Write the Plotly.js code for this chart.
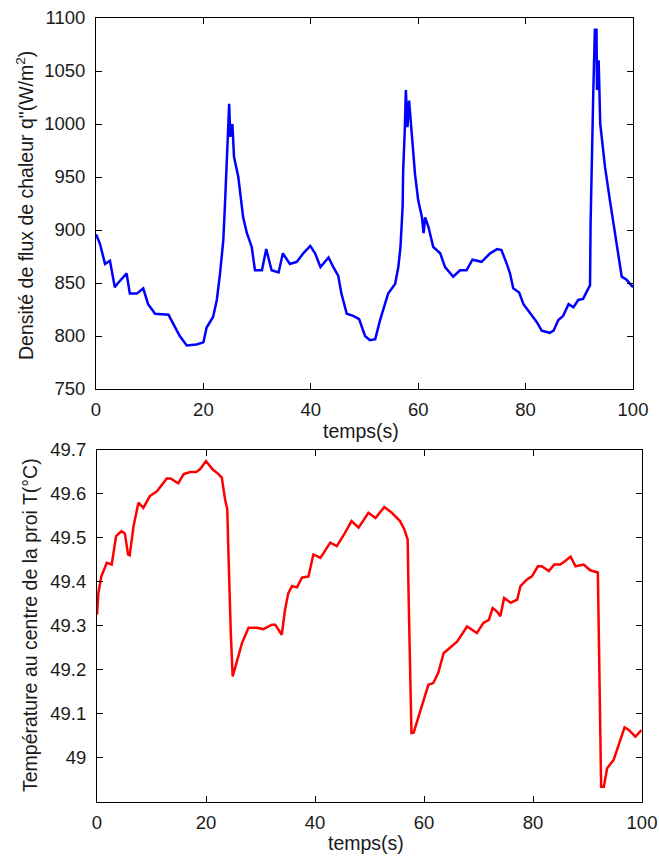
<!DOCTYPE html>
<html>
<head>
<meta charset="utf-8">
<script src="https://cdn.plot.ly/plotly-3.0.1.min.js"></script>
<style>html,body{margin:0;padding:0;background:#fff;}#chart{width:659px;height:856px;}</style>
</head>
<body>
<div id="chart"></div>
<script>
// Top panel: heat flux density q" (W/m²) vs time (s)
var tFlux = [0,0.74,1.68,2.6,3.5,4.1,5.7,6.3,7.6,8.8,
  9.7,11,13.5,15.6,16.9,18.7,20,20.6,21.8,22.5,
  23.1,23.7,24.0,24.3,24.5,24.8,25.0,25.4,25.7,26.5,
  27.4,28.1,29.0,29.6,30.9,31.7,32.7,34.0,34.8,36.1,
  37.4,38.6,39.9,40.8,41.8,43.3,44.2,45.1,45.7,46.7,
  47.9,49.0,50.1,51.0,52.0,52.9,54.4,55.7,56.3,56.7,
  57.1,57.2,57.5,57.7,58.0,58.3,58.8,59.4,60.0,60.7,
  61.0,61.3,61.9,62.8,64.1,65.0,66.5,67.8,69.0,70.1,
  71.8,73.4,74.7,75.5,76.5,77.1,77.7,78.8,79.6,80.8,
  82.1,83.0,84.5,85.2,86.1,87.0,88.0,88.9,89.8,90.7,
  92.0,92.1,92.3,92.6,92.9,93.2,93.3,93.6,93.9,94.8,
  95.7,96.6,97.3,97.9,98.8,100];
var qFlux = [896,887,868,871,846,850,859,840,840,845,
  830,821,820,800,791,792,794,808,818,834,
  859,890,922,956,988,1019,988,1000,969,950,
  912,897,884,862,862,882,862,860,878,868,
  870,878,885,878,865,874,865,857,840,821,
  819,816,800,796,797,815,840,849,865,884,
  922,956,994,1032,997,1022,991,953,928,912,
  897,912,903,884,878,865,856,862,862,872,
  870,878,882,881,868,859,845,841,830,822,
  813,805,803,805,815,819,830,827,834,835,
  848,906,967,1029,1089,1089,1032,1060,1000,959,
  928,900,878,856,853,846];

// Bottom panel: temperature at wall centre T (°C) vs time (s)
var tTemp = [0,0.25,0.8,1.8,2.7,3.5,4.5,5.1,5.7,6.0,
  6.7,7.6,8.5,9.7,11.0,12.8,13.5,14.9,15.9,17.1,
  18.2,18.9,20.0,21.2,22.3,22.9,23.5,23.9,24.1,24.3,
  24.55,24.9,25.65,26.6,27.8,29.3,30.5,32.1,32.7,33.9,
  34.5,35.1,35.8,36.7,37.6,38.8,39.7,41.0,42.8,44.0,
  45.5,46.7,48.0,49.8,51.1,52.7,54.1,55.6,56.4,57.0,
  57.2,57.5,57.7,58.1,59.0,59.9,60.8,61.7,62.6,63.6,
  64.8,66.1,67.9,69.7,70.9,71.9,72.6,73.4,74.0,74.7,
  75.9,77.1,77.7,78.9,79.8,80.9,81.6,82.9,83.9,85.0,
  85.9,86.9,87.8,89.3,90.5,91.9,92.1,92.3,92.5,93.0,
  93.6,94.8,95.7,96.8,97.6,98.8,99.9];
var TTemp = [49.325,49.374,49.412,49.443,49.439,49.504,49.515,49.51,49.462,49.46,
  49.526,49.58,49.568,49.595,49.606,49.635,49.635,49.624,49.645,49.65,
  49.65,49.656,49.675,49.656,49.645,49.637,49.587,49.565,49.473,49.374,
  49.283,49.184,49.215,49.26,49.295,49.295,49.292,49.302,49.302,49.279,
  49.336,49.374,49.39,49.387,49.409,49.412,49.462,49.454,49.489,49.481,
  49.511,49.538,49.523,49.557,49.545,49.57,49.557,49.538,49.519,49.496,
  49.352,49.203,49.055,49.056,49.093,49.131,49.165,49.169,49.192,49.237,
  49.249,49.264,49.298,49.283,49.306,49.313,49.34,49.332,49.321,49.363,
  49.352,49.359,49.39,49.405,49.412,49.435,49.435,49.424,49.439,49.439,
  49.447,49.457,49.435,49.439,49.426,49.421,49.26,49.093,48.933,48.933,
  48.975,48.994,49.028,49.068,49.062,49.047,49.062];

var xTicks = [0,20,40,60,80,100];
var qTicks = [750,800,850,900,950,1000,1050,1100];
var TTicks = [49,49.1,49.2,49.3,49.4,49.5,49.6,49.7];
var TTickText = ['49','49.1','49.2','49.3','49.4','49.5','49.6','49.7'];

var FONT = 'Liberation Sans, Arial, sans-serif';
var tickFont = {family: FONT, size: 18.5, color: '#1a1a1a'};

function axisBase() {
  return {
    showgrid: false, zeroline: false, showline: true, linecolor: '#000', linewidth: 1,
    mirror: 'ticks', ticks: 'inside', ticklen: 6, tickcolor: '#000', tickwidth: 1,
    tickfont: tickFont, automargin: false, fixedrange: true
  };
}

var xa1 = Object.assign(axisBase(), {domain: [96/659, 633/659], range: [0, 100], tickvals: xTicks, anchor: 'y', ticklabelstandoff: 4});
var ya1 = Object.assign(axisBase(), {domain: [1 - 389/856, 1 - 18/856], range: [750, 1100], tickvals: qTicks, anchor: 'x', ticklabelstandoff: 6});
var xa2 = Object.assign(axisBase(), {domain: [97/659, 642/659], range: [0, 100], tickvals: xTicks, anchor: 'y2', ticklabelstandoff: 4});
var ya2 = Object.assign(axisBase(), {domain: [1 - 802/856, 1 - 450/856], range: [48.898, 49.7], tickvals: TTicks, ticktext: TTickText, anchor: 'x2', ticklabelstandoff: 6});

var traces = [
  {x: tFlux, y: qFlux, type: 'scatter', mode: 'lines', line: {color: '#0000ff', width: 2.5}, xaxis: 'x', yaxis: 'y', hoverinfo: 'skip'},
  {x: tTemp, y: TTemp, type: 'scatter', mode: 'lines', line: {color: '#ff0000', width: 2.5}, xaxis: 'x2', yaxis: 'y2', hoverinfo: 'skip'}
];

var titleFont = {family: FONT, size: 19.5, color: '#1a1a1a'};
var layout = {
  width: 659, height: 856,
  margin: {l: 0, r: 0, t: 0, b: 0, pad: 0},
  paper_bgcolor: '#fff', plot_bgcolor: '#fff',
  showlegend: false,
  xaxis: xa1, yaxis: ya1, xaxis2: xa2, yaxis2: ya2,
  annotations: [
    {text: 'temps(s)', xref: 'paper', yref: 'paper', x: 361/659, y: 1 - 431/856, xanchor: 'center', yanchor: 'middle', showarrow: false, font: titleFont},
    {text: 'temps(s)', xref: 'paper', yref: 'paper', x: 366/659, y: 1 - 843/856, xanchor: 'center', yanchor: 'middle', showarrow: false, font: titleFont},
    {text: 'Densité de flux de chaleur q"(W/m<sup>2</sup>)', xref: 'paper', yref: 'paper', x: 25/659, y: 1 - 206/856, xanchor: 'center', yanchor: 'middle', textangle: -90, showarrow: false, font: titleFont},
    {text: 'Température au centre de la proi T(°C)', xref: 'paper', yref: 'paper', x: 30/659, y: 1 - 625/856, xanchor: 'center', yanchor: 'middle', textangle: -90, showarrow: false, font: titleFont}
  ]
};

Plotly.newPlot('chart', traces, layout, {displayModeBar: false, staticPlot: true});
</script>
</body>
</html>
